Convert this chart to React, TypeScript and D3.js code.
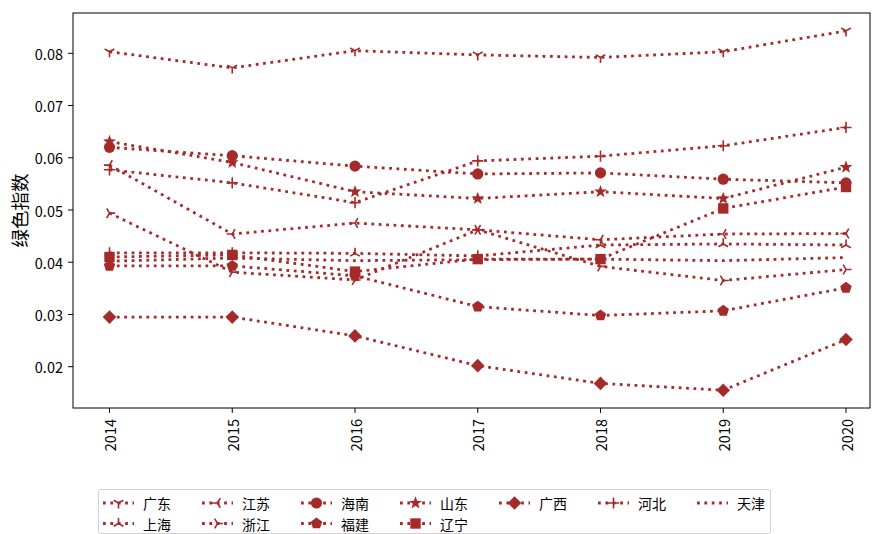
import React from 'react';
import * as d3 from 'd3';

const years = [2014, 2015, 2016, 2017, 2018, 2019, 2020];
const provinces = ['广东', '上海', '江苏', '浙江', '海南', '福建', '山东', '辽宁', '广西', '河北', '天津'];
const markers = ['tri_down', 'tri_up', 'tri_left', 'tri_right', 'circle', 'pentagon', 'star', 'square', 'diamond', 'plus', 'none'];

const guangdong = [0.0803, 0.0772, 0.0805, 0.0797, 0.0792, 0.0803, 0.0843];
const shanghai = [0.0418, 0.0418, 0.0417, 0.0412, 0.0433, 0.0435, 0.0433];
const jiangsu = [0.0586, 0.0454, 0.0475, 0.0462, 0.0443, 0.0454, 0.0455];
const zhejiang = [0.0494, 0.0381, 0.0366, 0.0462, 0.0392, 0.0365, 0.0386];
const hainan = [0.0620, 0.0604, 0.0584, 0.0569, 0.0571, 0.0559, 0.0552];
const fujian = [0.0393, 0.0393, 0.0374, 0.0315, 0.0298, 0.0307, 0.0351];
const shandong = [0.0631, 0.0591, 0.0535, 0.0522, 0.0535, 0.0522, 0.0582];
const liaoning = [0.0410, 0.0414, 0.0382, 0.0406, 0.0406, 0.0503, 0.0544];
const guangxi = [0.0295, 0.0295, 0.0259, 0.0202, 0.0168, 0.0155, 0.0252];
const hebei = [0.0577, 0.0552, 0.0514, 0.0594, 0.0603, 0.0623, 0.0658];
const tianjin = [0.0402, 0.0408, 0.0403, 0.0405, 0.0406, 0.0403, 0.0409];

const seriesValues = [guangdong, shanghai, jiangsu, zhejiang, hainan, fujian, shandong, liaoning, guangxi, hebei, tianjin];
const yTicks = [0.02, 0.03, 0.04, 0.05, 0.06, 0.07, 0.08];
const yLabel = '绿色指数';

const COLOR = '#a52a2a';
const FONT = '"Noto Sans CJK SC", "DejaVu Sans", sans-serif';
const W = 874;
const H = 534;
const plot = { left: 73, right: 870, top: 13, bottom: 408 };

const x = d3.scaleLinear().domain([2014, 2020]).range([109.5, 846]);
const y = d3.scaleLinear().domain([0.02, 0.08]).range([366.7, 53.3]);

function polygon(n: number, r: number, rot = -Math.PI / 2) {
  const pts: [number, number][] = [];
  for (let i = 0; i < n; i++) {
    const a = rot + (i * 2 * Math.PI) / n;
    pts.push([r * Math.cos(a), r * Math.sin(a)]);
  }
  return 'M' + pts.map((p) => p.join(',')).join('L') + 'Z';
}

function starPath(R: number, r: number) {
  const pts: [number, number][] = [];
  for (let i = 0; i < 10; i++) {
    const a = -Math.PI / 2 + (i * Math.PI) / 5;
    const rr = i % 2 === 0 ? R : r;
    pts.push([rr * Math.cos(a), rr * Math.sin(a)]);
  }
  return 'M' + pts.map((p) => p.join(',')).join('L') + 'Z';
}

function triPath(angles: number[], r: number) {
  return angles
    .map((deg) => {
      const a = (deg * Math.PI) / 180;
      return `M0,0L${r * Math.cos(a)},${r * Math.sin(a)}`;
    })
    .join('');
}

function Marker({ type, cx, cy }: { type: string; cx: number; cy: number }) {
  const t = `translate(${cx},${cy})`;
  const lineProps = { stroke: COLOR, strokeWidth: 1.6, fill: 'none', transform: t };
  switch (type) {
    case 'circle':
      return <circle cx={cx} cy={cy} r={5.6} fill={COLOR} />;
    case 'square':
      return <rect x={cx - 5.2} y={cy - 5.2} width={10.4} height={10.4} fill={COLOR} />;
    case 'diamond':
      return <path d={polygon(4, 6.8, 0)} fill={COLOR} transform={t} />;
    case 'pentagon':
      return <path d={polygon(5, 6)} fill={COLOR} transform={t} />;
    case 'star':
      return <path d={starPath(6.8, 2.8)} fill={COLOR} transform={t} />;
    case 'plus':
      return <path d="M-5.6,0L5.6,0M0,-5.6L0,5.6" {...lineProps} />;
    case 'tri_down':
      return <path d={triPath([90, 210, 330], 5.6)} {...lineProps} />;
    case 'tri_up':
      return <path d={triPath([270, 30, 150], 5.6)} {...lineProps} />;
    case 'tri_left':
      return <path d={triPath([180, 300, 60], 5.6)} {...lineProps} />;
    case 'tri_right':
      return <path d={triPath([0, 120, 240], 5.6)} {...lineProps} />;
    default:
      return null;
  }
}

const DASH = '2.78 4.6';
const LW = 2.78;

export default function App() {
  const line = d3
    .line<number>()
    .x((_, i) => x(years[i]))
    .y((d) => y(d));

  const legendItems = provinces.map((p, i) => {
    const col = i < 8 ? Math.floor(i / 2) : 4 + (i - 8);
    const row = i < 8 ? i % 2 : 0;
    return { name: p, marker: markers[i], x0: 103 + col * 99, cy: 503 + row * 20.5 };
  });

  return (
    <svg
      width={W}
      height={H}
      style={{ position: 'absolute', left: 0, top: 0, background: '#fff' }}
      fontFamily={FONT}
    >
      <rect x={0} y={0} width={W} height={H} fill="#fff" />
      {seriesValues.map((vals, si) => (
        <path
          key={'l' + si}
          d={line(vals) || ''}
          fill="none"
          stroke={COLOR}
          strokeWidth={LW}
          strokeDasharray={DASH}
        />
      ))}
      {seriesValues.map((vals, si) =>
        vals.map((v, i) => <Marker key={`m${si}-${i}`} type={markers[si]} cx={x(years[i])} cy={y(v)} />)
      )}
      <rect
        x={plot.left}
        y={plot.top}
        width={plot.right - plot.left}
        height={plot.bottom - plot.top}
        fill="none"
        stroke="#000"
        strokeWidth={1}
      />
      {yTicks.map((t) => (
        <g key={'yt' + t}>
          <line x1={plot.left} x2={plot.left - 4.9} y1={y(t)} y2={y(t)} stroke="#000" strokeWidth={1} />
          <text x={plot.left - 10} y={y(t)} textAnchor="end" dominantBaseline="central" fontSize={14.5} fill="#000">
            {t.toFixed(2)}
          </text>
        </g>
      ))}
      {years.map((yr) => (
        <g key={'xt' + yr}>
          <line x1={x(yr)} x2={x(yr)} y1={plot.bottom} y2={plot.bottom + 4.9} stroke="#000" strokeWidth={1} />
          <text
            transform={`translate(${x(yr)},${plot.bottom + 11}) rotate(-90)`}
            textAnchor="end"
            dominantBaseline="central"
            fontSize={14.5}
            fill="#000"
          >
            {yr}
          </text>
        </g>
      ))}
      <text
        transform={`translate(19,${(plot.top + plot.bottom) / 2}) rotate(-90)`}
        textAnchor="middle"
        dominantBaseline="central"
        fontSize={18.5}
        fill="#000"
      >
        {yLabel}
      </text>
      <rect x={98.5} y={489.5} width={672} height={44} rx={2} fill="#fff" stroke="#d0d0d0" strokeWidth={1} />
      {legendItems.map((it, i) => (
        <g key={'lg' + i}>
          <line
            x1={it.x0}
            x2={it.x0 + 31}
            y1={it.cy}
            y2={it.cy}
            stroke={COLOR}
            strokeWidth={LW}
            strokeDasharray={DASH}
          />
          <Marker type={it.marker} cx={it.x0 + 15.5} cy={it.cy} />
          <text x={it.x0 + 40} y={it.cy} dominantBaseline="central" fontSize={14} fill="#000">
            {it.name}
          </text>
        </g>
      ))}
    </svg>
  );
}
